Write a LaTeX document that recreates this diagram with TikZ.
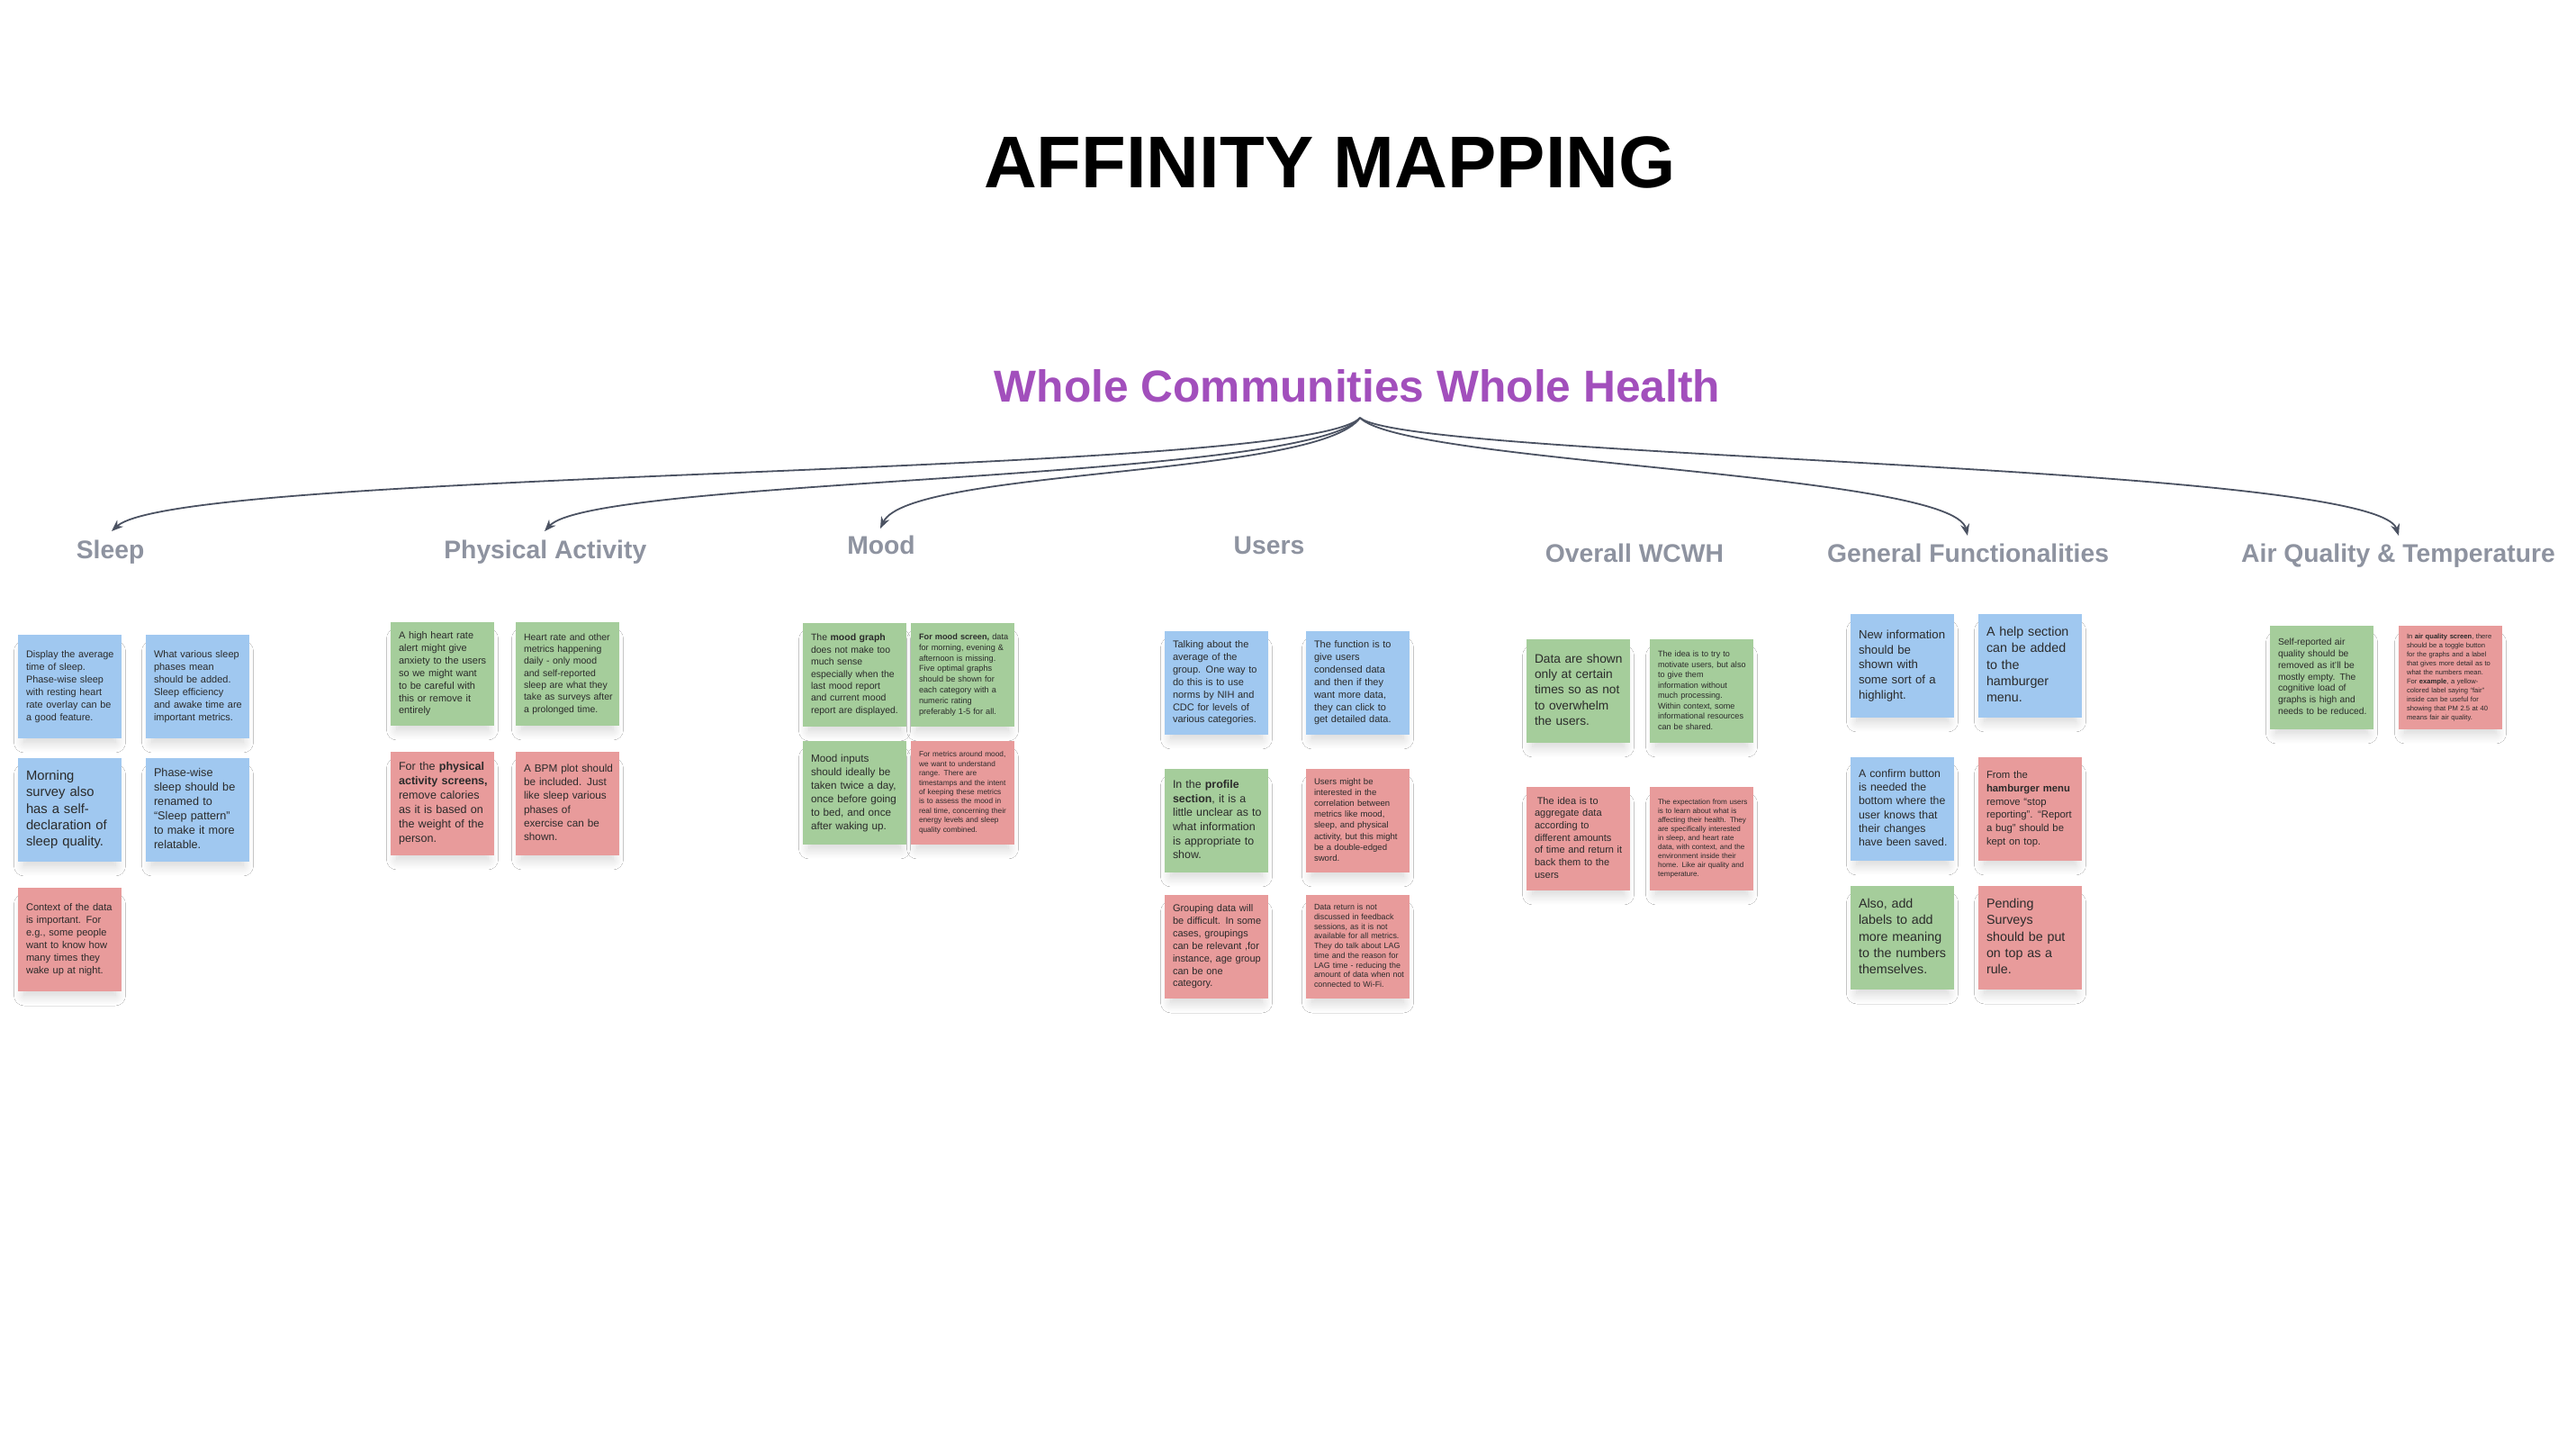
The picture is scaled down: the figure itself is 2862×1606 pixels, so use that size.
\documentclass[tikz,border=0pt]{standalone}
\usepackage{fontspec}
\setmainfont{Liberation Sans}
\usetikzlibrary{arrows.meta,shadows.blur}

\definecolor{noteblue}{HTML}{A0C8F0}
\definecolor{notegreen}{HTML}{A5CD9B}
\definecolor{notered}{HTML}{E89B9B}
\definecolor{notetext}{HTML}{2B2B2B}
\definecolor{hubpurple}{HTML}{A24FBC}
\definecolor{catgray}{HTML}{8E93A0}
\definecolor{linkgray}{HTML}{4B5262}

% sticky note: name, centre, fill, font size, line pitch, text (lines split by \\)
\newcommand{\stickynote}[6]{%
  \node[stickybox, fill=#3, font=\fontsize{#4}{#5}\selectfont] (#1) at (#2)
    {\begin{tabular}{@{}l@{}}#6\end{tabular}};}

\begin{document}
\begin{tikzpicture}[x=1pt,y=-1pt,
  stickybox/.style={rectangle, minimum width=115pt, minimum height=115pt,
    text width=97pt, inner xsep=9pt, inner ysep=0pt, align=left, text=notetext,
    blur shadow={shadow xshift=0pt, shadow yshift=-13pt, shadow scale=0.88,
      shadow blur radius=13pt, shadow blur steps=16, shadow opacity=18}},
  category/.style={anchor=base, inner sep=0pt, text=catgray,
    font=\fontsize{28.3}{34}\selectfont\bfseries},
  link/.style={draw=linkgray, line width=1.8pt, -{Stealth[length=13pt,width=10pt]}}]

\fill[white] (0,0) rectangle (2862,1606);
\useasboundingbox (0,0) rectangle (2862,1606);

% headings
\node[anchor=base, inner sep=0pt, font=\fontsize{81.4}{98}\selectfont\bfseries]
  (title) at (1477.5,208) {AFFINITY MAPPING};
\node[anchor=base, inner sep=0pt, text=hubpurple, font=\fontsize{49.7}{60}\selectfont\bfseries]
  (hub) at (1508,446) {Whole Communities Whole Health};
\coordinate (root) at (1511,464);

% categories
\node[category] (sleep) at (122.6,620) {Sleep};
\node[category] (physical) at (605.8,620) {Physical Activity};
\node[category] (mood) at (979,615) {Mood};
\node[category] (users) at (1410,615) {Users};
\node[category] (overall) at (1816,624) {Overall WCWH};
\node[category] (general) at (2186.5,624) {General Functionalities};
\node[category] (air) at (2664.5,624) {Air Quality \& Temperature};

\coordinate (tipSleep) at (124,590);
\coordinate (tipPhysical) at (605,590);
\coordinate (tipMood) at (978,587);
\coordinate (tipGeneral) at (2186,595);
\coordinate (tipAir) at (2665,595);

% branches
\draw[link] (root) .. controls +(-61,66) and +(76,-70) .. (tipSleep);
\draw[link] (root) .. controls +(-56,71) and +(55,-60) .. (tipPhysical);
\draw[link] (root) .. controls +(-46,66) and +(32,-67) .. (tipMood);
\draw[link] (root) .. controls +(49,51) and +(-16,-70) .. (tipGeneral);
\draw[link] (root) .. controls +(54,46) and +(-25,-80) .. (tipAir);

% Sleep
\stickynote{s1}{77.5,762.5}{noteblue}{10.9}{14}{Display the average\\time of sleep.\\Phase-wise sleep\\with resting heart\\rate overlay can be\\a good feature.}
\stickynote{s2}{219.5,762.5}{noteblue}{11}{14}{What various sleep\\phases mean\\should be added.\\Sleep efficiency\\and awake time are\\important metrics.}
\stickynote{s3}{77.5,899.5}{noteblue}{14.8}{18.3}{Morning\\survey also\\has a self-\\declaration of\\sleep quality.}
\stickynote{s4}{219.5,899.5}{noteblue}{12.7}{16.1}{Phase-wise\\sleep should be\\renamed to\\“Sleep pattern”\\to make it more\\relatable.}
\stickynote{s5}{77.5,1043.5}{notered}{11.1}{14}{Context of the data\\is important. For\\e.g., some people\\want to know how\\many times they\\wake up at night.}

% Physical Activity
\stickynote{p1}{491.5,748.5}{notegreen}{11}{13.9}{A high heart rate\\alert might give\\anxiety to the users\\so we might want\\to be careful with\\this or remove it\\entirely}
\stickynote{p2}{630.5,748.5}{notegreen}{10.5}{13.3}{Heart rate and other\\metrics happening\\daily - only mood\\and self-reported\\sleep are what they\\take as surveys after\\a prolonged time.}
\stickynote{p3}{491.5,892.5}{notered}{12.6}{16}{For the \textbf{physical}\\\textbf{activity screens,}\\remove calories\\as it is based on\\the weight of the\\person.}
\stickynote{p4}{630.5,892.5}{notered}{11.8}{15.1}{A BPM plot should\\be included. Just\\like sleep various\\phases of\\exercise can be\\shown.}

% Mood
\stickynote{m1}{949.5,749.5}{notegreen}{10.5}{13.4}{The \textbf{mood graph}\\does not make too\\much sense\\especially when the\\last mood report\\and current mood\\report are displayed.}
\stickynote{m2}{1069.5,749.5}{notegreen}{9.2}{11.8}{\textbf{For mood screen,} data\\for morning, evening \&\\afternoon is missing.\\Five optimal graphs\\should be shown for\\each category with a\\numeric rating\\preferably 1-5 for all.}
\stickynote{m3}{949.5,880.5}{notegreen}{11.7}{15}{Mood inputs\\should ideally be\\taken twice a day,\\once before going\\to bed, and once\\after waking up.}
\stickynote{m4}{1069.5,880.5}{notered}{8.3}{10.4}{For metrics around mood,\\we want to understand\\range. There are\\timestamps and the intent\\of keeping these metrics\\is to assess the mood in\\real time, concerning their\\energy levels and sleep\\quality combined.}

% Users
\stickynote{u1}{1351.5,758.5}{noteblue}{11}{13.9}{Talking about the\\average of the\\group. One way to\\do this is to use\\norms by NIH and\\CDC for levels of\\various categories.}
\stickynote{u2}{1508.5,758.5}{noteblue}{11}{13.9}{The function is to\\give users\\condensed data\\and then if they\\want more data,\\they can click to\\get detailed data.}
\stickynote{u3}{1351.5,911.5}{notegreen}{12.4}{15.7}{In the \textbf{profile}\\\textbf{section}, it is a\\little unclear as to\\what information\\is appropriate to\\show.}
\stickynote{u4}{1508.5,911.5}{notered}{9.6}{12.1}{Users might be\\interested in the\\correlation between\\metrics like mood,\\sleep, and physical\\activity, but this might\\be a double-edged\\sword.}
\stickynote{u5}{1351.5,1051.5}{notered}{11}{13.9}{Grouping data will\\be difficult. In some\\cases, groupings\\can be relevant ,for\\instance, age group\\can be one\\category.}
\stickynote{u6}{1508.5,1051.5}{notered}{8.9}{10.75}{Data return is not\\discussed in feedback\\sessions, as it is not\\available for all metrics.\\They do talk about LAG\\time and the reason for\\LAG time - reducing the\\amount of data when not\\connected to Wi-Fi.}

% Overall WCWH
\stickynote{o1}{1753.5,767.5}{notegreen}{13.7}{17.3}{Data are shown\\only at certain\\times so as not\\to overwhelm\\the users.}
\stickynote{o2}{1890.5,767.5}{notegreen}{9.1}{11.5}{The idea is to try to\\motivate users, but also\\to give them\\information without\\much processing.\\Within context, some\\informational resources\\can be shared.}
\stickynote{o3}{1753.5,931.5}{notered}{11}{13.7}{\hspace*{0.25em}The idea is to\\aggregate data\\according to\\different amounts\\of time and return it\\back them to the\\users}
\stickynote{o4}{1890.5,931.5}{notered}{8.1}{10}{The expectation from users\\is to learn about what is\\affecting their health. They\\are specifically interested\\in sleep, and heart rate\\data, with context, and the\\environment inside their\\home. Like air quality and\\temperature.}

% General Functionalities
\stickynote{g1}{2113.5,739.5}{noteblue}{13.2}{16.7}{New information\\should be\\shown with\\some sort of a\\highlight.}
\stickynote{g2}{2255.5,739.5}{noteblue}{14.3}{18.2}{A help section\\can be added\\to the\\hamburger\\menu.}
\stickynote{g3}{2113.5,898.5}{noteblue}{12.3}{15.3}{A confirm button\\is needed the\\bottom where the\\user knows that\\their changes\\have been saved.}
\stickynote{g4}{2255.5,898.5}{notered}{11.3}{14.8}{From the\\\textbf{hamburger menu}\\remove “stop\\reporting”. “Report\\a bug” should be\\kept on top.}
\stickynote{g5}{2113.5,1041.5}{notegreen}{14.3}{18.2}{Also, add\\labels to add\\more meaning\\to the numbers\\themselves.}
\stickynote{g6}{2255.5,1041.5}{notered}{14.3}{18.2}{Pending\\Surveys\\should be put\\on top as a\\rule.}

% Air Quality & Temperature
\stickynote{a1}{2579.5,752.5}{notegreen}{10.3}{12.9}{Self-reported air\\quality should be\\removed as it'll be\\mostly empty. The\\cognitive load of\\graphs is high and\\needs to be reduced.}
\stickynote{a2}{2722.5,752.5}{notered}{7.6}{9.9}{In \textbf{air quality screen}, there\\should be a toggle button\\for the graphs and a label\\that gives more detail as to\\what the numbers mean.\\For \textbf{example}, a yellow-\\colored label saying “fair”\\inside can be useful for\\showing that PM 2.5 at 40\\means fair air quality.}

\end{tikzpicture}
\end{document}
